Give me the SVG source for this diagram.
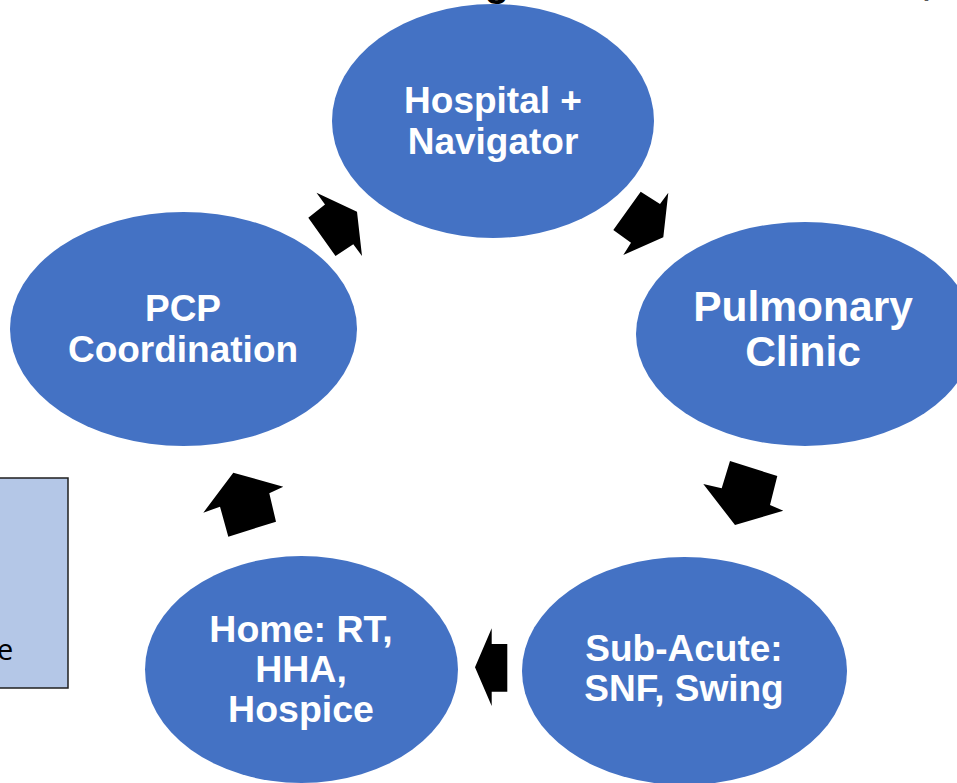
<svg xmlns="http://www.w3.org/2000/svg" width="957" height="783" viewBox="0 0 957 783">
<style>
.node{fill:#4472C4}
.lbl{fill:#FFFFFF;font-family:"Liberation Sans",Arial,sans-serif;font-weight:bold;font-size:37px;text-anchor:middle}
.big{font-size:42.5px}
.mid{font-size:37.5px}
.arr{fill:#000000}
</style>
<rect width="957" height="783" fill="#FFFFFF"/>
<text x="497" y="-4" style="font-family:'Liberation Sans',Arial,sans-serif;font-weight:bold;font-size:40px;text-anchor:middle" fill="#000000">g</text>
<text x="933" y="-7" style="font-family:'Liberation Sans',Arial,sans-serif;font-size:40px;text-anchor:middle" fill="#595959">p</text>
<g id="side-box">
<rect x="-2" y="478" width="70" height="210" fill="#B4C7E7" stroke="#1F1F1F" stroke-width="1.5"/>
<text x="-3" y="660" style="font-family:'Open Sans','Liberation Sans',sans-serif;font-size:29px" fill="#000000">e</text>
</g>
<g id="hospital">
<ellipse class="node" cx="493" cy="121" rx="161" ry="117"/>
<text class="lbl" x="493" y="113">Hospital +</text>
<text class="lbl" x="493" y="154">Navigator</text>
</g>
<g id="pulmonary">
<ellipse class="node" cx="805" cy="334" rx="169" ry="112"/>
<text class="lbl big" x="803" y="321">Pulmonary</text>
<text class="lbl big" x="803" y="366">Clinic</text>
</g>
<g id="subacute">
<ellipse class="node" cx="684.5" cy="671" rx="162.5" ry="114"/>
<text class="lbl" x="684" y="661">Sub-Acute:</text>
<text class="lbl" x="684" y="701">SNF, Swing</text>
</g>
<g id="home">
<ellipse class="node" cx="301.5" cy="669.5" rx="156.5" ry="113.5"/>
<text class="lbl mid" x="301" y="642">Home: RT,</text>
<text class="lbl mid" x="301" y="682">HHA,</text>
<text class="lbl mid" x="301" y="722">Hospice</text>
</g>
<g id="pcp">
<ellipse class="node" cx="183.5" cy="329" rx="173.5" ry="117"/>
<text class="lbl" x="183" y="321">PCP</text>
<text class="lbl" x="183" y="362">Coordination</text>
</g>
<g id="connectors">
<polygon class="arr" points="316.5,192.7 357,211.7 362,256 353.3,244.3 335.5,256 308.3,217.8 325,204.6"/>
<polygon class="arr" points="640.7,191.7 660,204 668.3,192.7 663.3,237.3 623.3,255 631,242.7 613.3,230"/>
<polygon class="arr" points="730,461 777.3,476 770,505 783.3,510.7 735,525 703.3,484 721.7,488.3"/>
<polygon class="arr" points="475,667.3 491.7,628.3 491.7,644 507.3,644 507.3,691.7 491.7,691.7 491.7,706"/>
<polygon class="arr" points="233.3,472.7 283.3,486.7 269.3,493.3 276,521.7 228.3,536.7 220,506.7 203.3,512.7"/>
</g>
</svg>
